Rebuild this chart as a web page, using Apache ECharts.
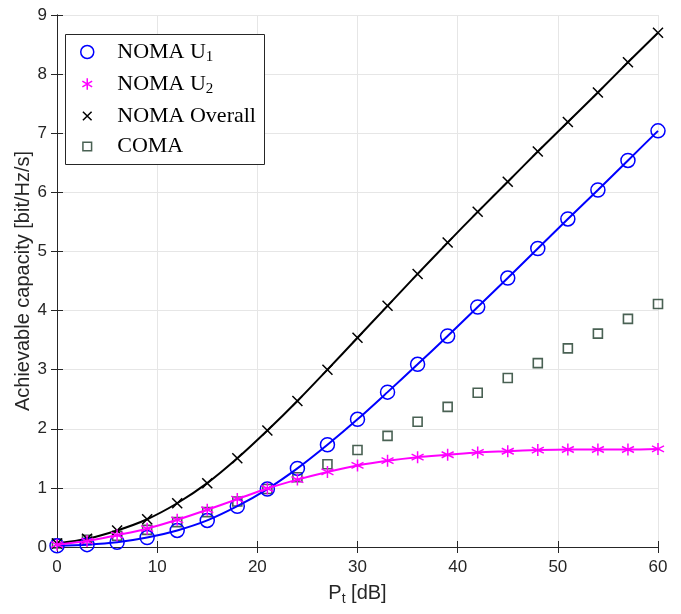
<!DOCTYPE html>
<html>
<head>
<meta charset="utf-8">
<script src="https://cdn.jsdelivr.net/npm/echarts@6/dist/echarts.min.js"></script>
<style>html,body{margin:0;padding:0;background:#fff}#c{width:681px;height:614px}</style>
</head>
<body>
<div id="c"></div>
<script>
var ptDb = [0,3,6,9,12,15,18,21,24,27,30,33,36,39,42,45,48,51,54,57,60];
var nomaU1 = [0.02,0.04,0.08,0.16,0.28,0.45,0.69,0.98,1.33,1.73,2.16,2.62,3.09,3.57,4.06,4.55,5.05,5.55,6.04,6.54,7.04];
var nomaU2 = [0.04,0.10,0.20,0.31,0.46,0.63,0.81,0.99,1.14,1.27,1.38,1.46,1.52,1.56,1.60,1.62,1.64,1.65,1.65,1.65,1.66];
var nomaOverall = [0.06,0.14,0.28,0.47,0.74,1.08,1.50,1.97,2.47,3.00,3.54,4.08,4.62,5.15,5.67,6.18,6.69,7.19,7.69,8.20,8.70];
var coma = [0.06,0.12,0.19,0.29,0.42,0.59,0.77,0.98,1.18,1.40,1.64,1.88,2.12,2.37,2.61,2.86,3.11,3.36,3.61,3.86,4.11];
var xTicks = [0,10,20,30,40,50,60];
var yTicks = [0,1,2,3,4,5,6,7,8,9];

function pairs(ys){ return ptDb.map(function(x,i){ return [x, ys[i]]; }); }

var STAR = 'path://M0,-1L0,1M-0.866,-0.5L0.866,0.5M-0.866,0.5L0.866,-0.5';
var XMARK = 'path://M-1,-1L1,1M-1,1L1,-1';
var SQUARE = 'path://M-1,-1L1,-1L1,1L-1,1Z';
var STAR_L = 'path://M-1.15,-1.15M1.15,1.15M0,-1L0,1M-0.866,-0.5L0.866,0.5M-0.866,0.5L0.866,-0.5';
var XMARK_L = 'path://M-1.5,-1.5M1.5,1.5M-1,-1L1,1M-1,1L1,-1';
var SQUARE_L = 'path://M-1.5,-1.5M1.5,1.5M-1,-1L1,-1L1,1L-1,1Z';
var AX = '#262626';
var green = '#1b3a28';

var chart = echarts.init(document.getElementById('c'), null, {renderer:'canvas'});
var axisLine = {show:true, lineStyle:{color:AX, width:1}};
var axisTick = {show:true, inside:true, length:6, lineStyle:{color:AX}};
chart.setOption({
  animation:false,
  backgroundColor:'#fff',
  grid:{left:57, right:23, top:15, bottom:67, containLabel:false},
  xAxis:[{
    type:'value', min:0, max:60, interval:10, position:'bottom',
    axisLine:axisLine, axisTick:axisTick,
    axisLabel:{color:AX, fontFamily:'Liberation Sans', fontSize:17, margin:12,
      formatter:function(v){ return xTicks.indexOf(v)>=0 ? String(v) : ''; }},
    splitLine:{show:true, lineStyle:{color:'#e6e6e6', width:1}},
    name:'{a|P}{s|t}{a| [dB]}', nameLocation:'middle', nameGap:34, nameMoveOverlap:false,
    nameTextStyle:{rich:{a:{fontFamily:'Liberation Sans', fontSize:20, color:AX},
      s:{fontFamily:'Liberation Sans', fontSize:14, color:AX, padding:[11,0,0,0]}}}
  },{
    type:'value', min:0, max:60, interval:10, position:'top',
    axisLine:axisLine, axisTick:axisTick,
    axisLabel:{show:false}, splitLine:{show:false}
  }],
  yAxis:[{
    type:'value', min:0, max:9, interval:1, position:'left',
    axisLine:axisLine, axisTick:axisTick,
    axisLabel:{color:AX, fontFamily:'Liberation Sans', fontSize:17, margin:10,
      formatter:function(v){ return yTicks.indexOf(v)>=0 ? String(v) : ''; }},
    splitLine:{show:true, lineStyle:{color:'#e6e6e6', width:1}},
    name:'Achievable capacity [bit/Hz/s]', nameLocation:'middle', nameGap:24, nameMoveOverlap:false,
    nameTextStyle:{fontFamily:'Liberation Sans', fontSize:20, color:AX}
  },{
    type:'value', min:0, max:9, interval:1, position:'right',
    axisLine:axisLine, axisTick:axisTick,
    axisLabel:{show:false}, splitLine:{show:false}
  }],
  graphic:[{
    type:'rect', left:65, top:34, z:3,
    shape:{width:199, height:130},
    style:{fill:'#fff', stroke:AX, lineWidth:1}
  }],
  legend:{
    orient:'vertical', left:80, top:41, z:5,
    itemWidth:14, itemHeight:13, itemGap:8.5,
    padding:[0,0,0,0],
    formatter:function(name){
      if(name==='NOMA U1') return '{a|NOMA U}{s|1}';
      if(name==='NOMA U2') return '{a|NOMA U}{s|2}';
      return '{a|'+name+'}';
    },
    textStyle:{rich:{
      a:{fontFamily:'Liberation Serif', fontSize:22, color:'#000', lineHeight:23, padding:[0,0,0,18]},
      s:{fontFamily:'Liberation Serif', fontSize:15, color:'#000', padding:[10,0,0,0]}
    }},
    data:[
      {name:'NOMA U1', icon:'circle', itemStyle:{color:'transparent', borderColor:'#0000ff', borderWidth:1.5}},
      {name:'NOMA U2', icon:STAR_L, itemStyle:{color:'transparent', borderColor:'#ff00ff', borderWidth:1.5}},
      {name:'NOMA Overall', icon:XMARK_L, itemStyle:{color:'transparent', borderColor:'#000', borderWidth:1.5}},
      {name:'COMA', icon:SQUARE_L, itemStyle:{color:'transparent', borderColor:green, borderWidth:1.5}}
    ]
  },
  series:[
    {name:'COMA', type:'scatter', data:pairs(coma), symbol:SQUARE, symbolSize:9,
      itemStyle:{color:'transparent', borderColor:green, borderWidth:1.6}, z:2},
    {name:'NOMA U1', type:'line', data:pairs(nomaU1), smooth:0.3, symbol:'circle', symbolSize:14, showAllSymbol:true,
      lineStyle:{color:'#0000ff', width:2}, itemStyle:{color:'transparent', borderColor:'#0000ff', borderWidth:1.5}, z:3},
    {name:'NOMA U2', type:'line', data:pairs(nomaU2), smooth:0.3, symbol:STAR, symbolSize:12, showAllSymbol:true,
      lineStyle:{color:'#ff00ff', width:2}, itemStyle:{color:'transparent', borderColor:'#ff00ff', borderWidth:1.5}, z:4},
    {name:'NOMA Overall', type:'line', data:pairs(nomaOverall), smooth:0.3, symbol:XMARK, symbolSize:10, showAllSymbol:true,
      lineStyle:{color:'#000', width:2}, itemStyle:{color:'transparent', borderColor:'#000', borderWidth:1.5}, z:3}
  ]
});
</script>
</body>
</html>
